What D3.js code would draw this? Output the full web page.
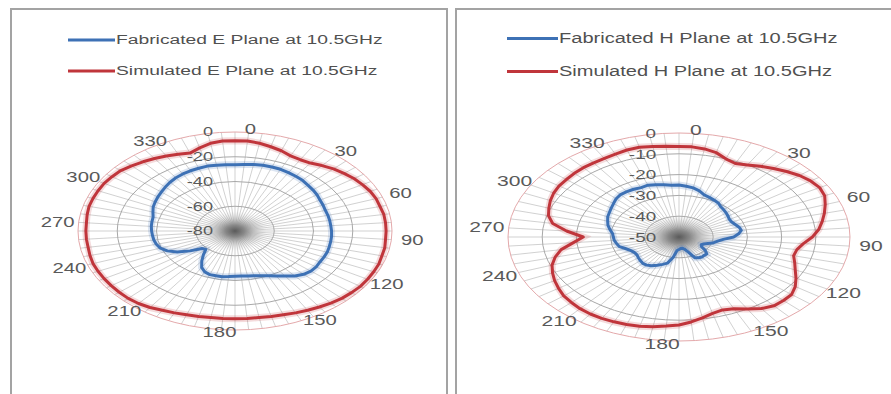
<!DOCTYPE html>
<html><head><meta charset="utf-8">
<script src="https://cdn.jsdelivr.net/npm/d3@7"></script>
<style>
html,body{margin:0;padding:0;background:#fff;}
svg{display:block;font-family:"Liberation Sans",Arial,sans-serif;}
</style>
</head><body>
<svg id="c" width="891" height="394"></svg>
<script>
// ---- data ----
const angles = [0,5,10,15,20,25,30,35,40,45,50,55,60,65,70,75,80,85,90,95,100,105,110,115,120,125,130,135,140,145,150,155,160,165,170,175,180,185,190,195,200,205,210,215,220,225,230,235,240,245,250,255,260,265,270,275,280,285,290,295,300,305,310,315,320,325,330,335,340,345,350,355];
const angleLabels = ["0","30","60","90","120","150","180","210","240","270","300","330"];
const angleLabelValues = [0,30,60,90,120,150,180,210,240,270,300,330];
const eTicks = [0,-20,-40,-60,-80];
const hTicks = [0,-10,-20,-30,-40,-50];

const fabE = [-26.5,-26,-25.5,-25,-25,-25,-25.5,-26,-26.5,-27.5,-28.2,-29,-30,-30.5,-31,-31,-31,-31,-30.8,-30.6,-30.5,-30.3,-30,-30,-30,-29.5,-29.5,-30.5,-32.5,-35.5,-38,-40,-41.5,-42.5,-43,-43.5,-43.5,-43,-42.5,-42.5,-42.5,-43.5,-46,-50.5,-55,-59,-58,-52,-46,-42,-39.5,-38.5,-38,-37.8,-37.5,-37.2,-37,-36.8,-35.5,-34,-33,-32,-31,-29.8,-28.5,-27.5,-26.8,-26.3,-26,-25.7,-26,-26.3];
const simE = [-7,-7,-8,-9.5,-11,-13,-13.5,-13,-11,-9,-7.5,-6,-5,-4,-3.5,-3.5,-3,-3,-3,-3,-2.5,-2.5,-2,-2,-2,-2,-2.5,-3,-4,-5,-6,-7,-8,-8.5,-9,-9,-9,-9,-9,-8.5,-8,-7,-6,-4.5,-3.5,-3,-3,-3,-3,-3,-3,-3.5,-4,-4,-4,-4,-3.5,-3,-3,-3,-3,-3.5,-4,-5.5,-7,-8.5,-10,-11.5,-13,-10.5,-8,-7];
const fabH = [-25,-25.5,-26,-27,-28.5,-29,-29.5,-30,-31,-31.5,-32,-32.5,-33,-33,-32.5,-31.8,-31.5,-32.5,-34,-37,-38.5,-39.5,-41,-42,-42.5,-42,-40,-38.5,-38.5,-38.3,-38.5,-39,-42.5,-44,-44.5,-44.5,-44,-43.5,-40,-37,-36,-35,-34,-33.5,-33.5,-34,-34.5,-35,-35,-34.5,-33.5,-32,-31.5,-31,-30.8,-30.5,-29.5,-28.5,-27.8,-27,-26.5,-25.8,-25,-24,-23.4,-23.4,-23.5,-23.8,-23.5,-24,-24.5,-25];
const simH = [-6.5,-6.5,-7,-8,-10,-11,-10,-8.5,-7,-5.5,-4,-3,-2.5,-3,-4.5,-6,-7.5,-9,-11,-13.5,-15,-15.3,-14,-12.5,-10.5,-8.5,-7,-6.8,-6.8,-8,-10,-12,-12.7,-12,-10.5,-9,-7.7,-7,-6.2,-5.6,-5.2,-5,-4.8,-4.8,-5,-5.5,-6,-7,-8,-9.2,-10.5,-12.5,-15,-19,-22,-17,-12.5,-10.5,-9.5,-8.5,-7.7,-7.2,-7,-6.7,-6.5,-6.5,-6.4,-6,-5.5,-5.3,-5.8,-6.2];

const legendE = ["Fabricated E Plane at 10.5GHz","Simulated E Plane at 10.5GHz"];
const legendH = ["Fabricated H Plane at 10.5GHz","Simulated H Plane at 10.5GHz"];

// ---- drawing ----
const BLUE = "#3d71b5", RED = "#c0353b";
const svg = d3.select("#c");
const SX = 1.45; // horizontal stretch of the original picture
const rad = d => d * Math.PI / 180;

const defs = svg.append("defs");
const grad = defs.append("radialGradient").attr("id", "hub");
[[0, "#5a5a5a", 1], [0.3, "#787878", 0.8], [0.65, "#a5a5a5", 0.4], [1, "#cccccc", 0]].forEach(([o, c, a]) =>
  grad.append("stop").attr("offset", o).attr("stop-color", c).attr("stop-opacity", a));

function panel(o){
  // frame
  svg.append("rect").attr("x", o.fx).attr("y", 9).attr("width", o.fw).attr("height", 420)
    .attr("fill", "none").attr("stroke", "#a3a3a3").attr("stroke-width", 2);

  // legend
  const colors = [BLUE, RED];
  o.legend.forEach((t, i) => {
    const y = o.ly[i];
    svg.append("line").attr("x1", o.lx0).attr("x2", o.lx1).attr("y1", y).attr("y2", y)
      .attr("stroke", colors[i]).attr("stroke-width", 3);
    svg.append("text").attr("transform", `translate(${o.lx1 + 1},${y}) scale(${SX},1)`)
      .attr("dominant-baseline", "central").attr("font-size", 13.3 * o.s)
      .attr("fill", "#505050").text(t);
  });

  const r = d3.scaleLinear().domain([o.ticks[o.ticks.length - 1], 0]).range([0, o.ry]);
  const g = svg.append("g").attr("transform", `translate(${o.cx},${o.cy}) scale(${o.rx / o.ry},1)`);

  // spokes
  g.selectAll("line.spoke").data(angles).join("line").attr("class", "spoke")
    .attr("x1", 0).attr("y1", 0)
    .attr("x2", a => r(0) * Math.sin(rad(a))).attr("y2", a => -r(0) * Math.cos(rad(a)))
    .attr("stroke", "#bdbdbd").attr("stroke-width", 0.7).attr("vector-effect", "non-scaling-stroke");
  // rings
  g.selectAll("circle.ring").data(o.ticks.slice(0, -1)).join("circle").attr("class", "ring")
    .attr("r", d => r(d)).attr("fill", "none")
    .attr("stroke", (d, i) => i === 0 ? "#e4a9ab" : "#a8a8a8").attr("stroke-width", 1)
    .attr("vector-effect", "non-scaling-stroke");

  // hub shading where the spokes converge
  g.append("circle").attr("r", o.hub).attr("fill", "url(#hub)");

  // series
  const line = d3.lineRadial().angle((d, i) => rad(angles[i])).radius(d => r(d)).curve(d3.curveLinearClosed);
  [[o.sim, RED], [o.fab, BLUE]].forEach(([vals, c]) => {
    g.append("path").attr("d", line(vals)).attr("fill", "none").attr("stroke", c)
      .attr("stroke-opacity", 0.18).attr("stroke-width", 7).attr("vector-effect", "non-scaling-stroke");
    g.append("path").attr("d", line(vals)).attr("fill", "none").attr("stroke", c)
      .attr("stroke-width", 3).attr("stroke-linejoin", "round").attr("vector-effect", "non-scaling-stroke");
  });

  // value axis labels
  o.ticks.forEach(t => {
    svg.append("text").attr("transform", `translate(${o.cx - 22 * o.s},${o.cy - r(t)}) scale(${SX},1)`)
      .attr("text-anchor", "end").attr("dominant-baseline", "central")
      .attr("font-size", 12.5 * o.s).attr("fill", "#595959").text(t);
  });

  // angle labels
  angleLabelValues.forEach((a, i) => {
    const p = a + 5 + 4 * Math.sin(rad(2 * a));
    const x = o.cx + (o.rx + 21 * o.s) * Math.sin(rad(p));
    const y = o.cy - (o.ry + 3 * o.s) * Math.cos(rad(p));
    svg.append("text").attr("transform", `translate(${x},${y}) scale(${SX},1)`)
      .attr("text-anchor", "middle").attr("dominant-baseline", "central")
      .attr("font-size", 14 * o.s).attr("fill", "#595959").text(angleLabels[i]);
  });
}

panel({fx: 11, fw: 436, cx: 235, cy: 231, rx: 157, ry: 99, s: 1, hub: 20,
  ticks: eTicks, fab: fabE, sim: simE, legend: legendE, lx0: 68, lx1: 115, ly: [40, 71]});
panel({fx: 456, fw: 450, cx: 679, cy: 237, rx: 171, ry: 104, s: 1.04, hub: 22,
  ticks: hTicks, fab: fabH, sim: simH, legend: legendH, lx0: 507, lx1: 558, ly: [38.5, 71.5]});
</script>
</body></html>
